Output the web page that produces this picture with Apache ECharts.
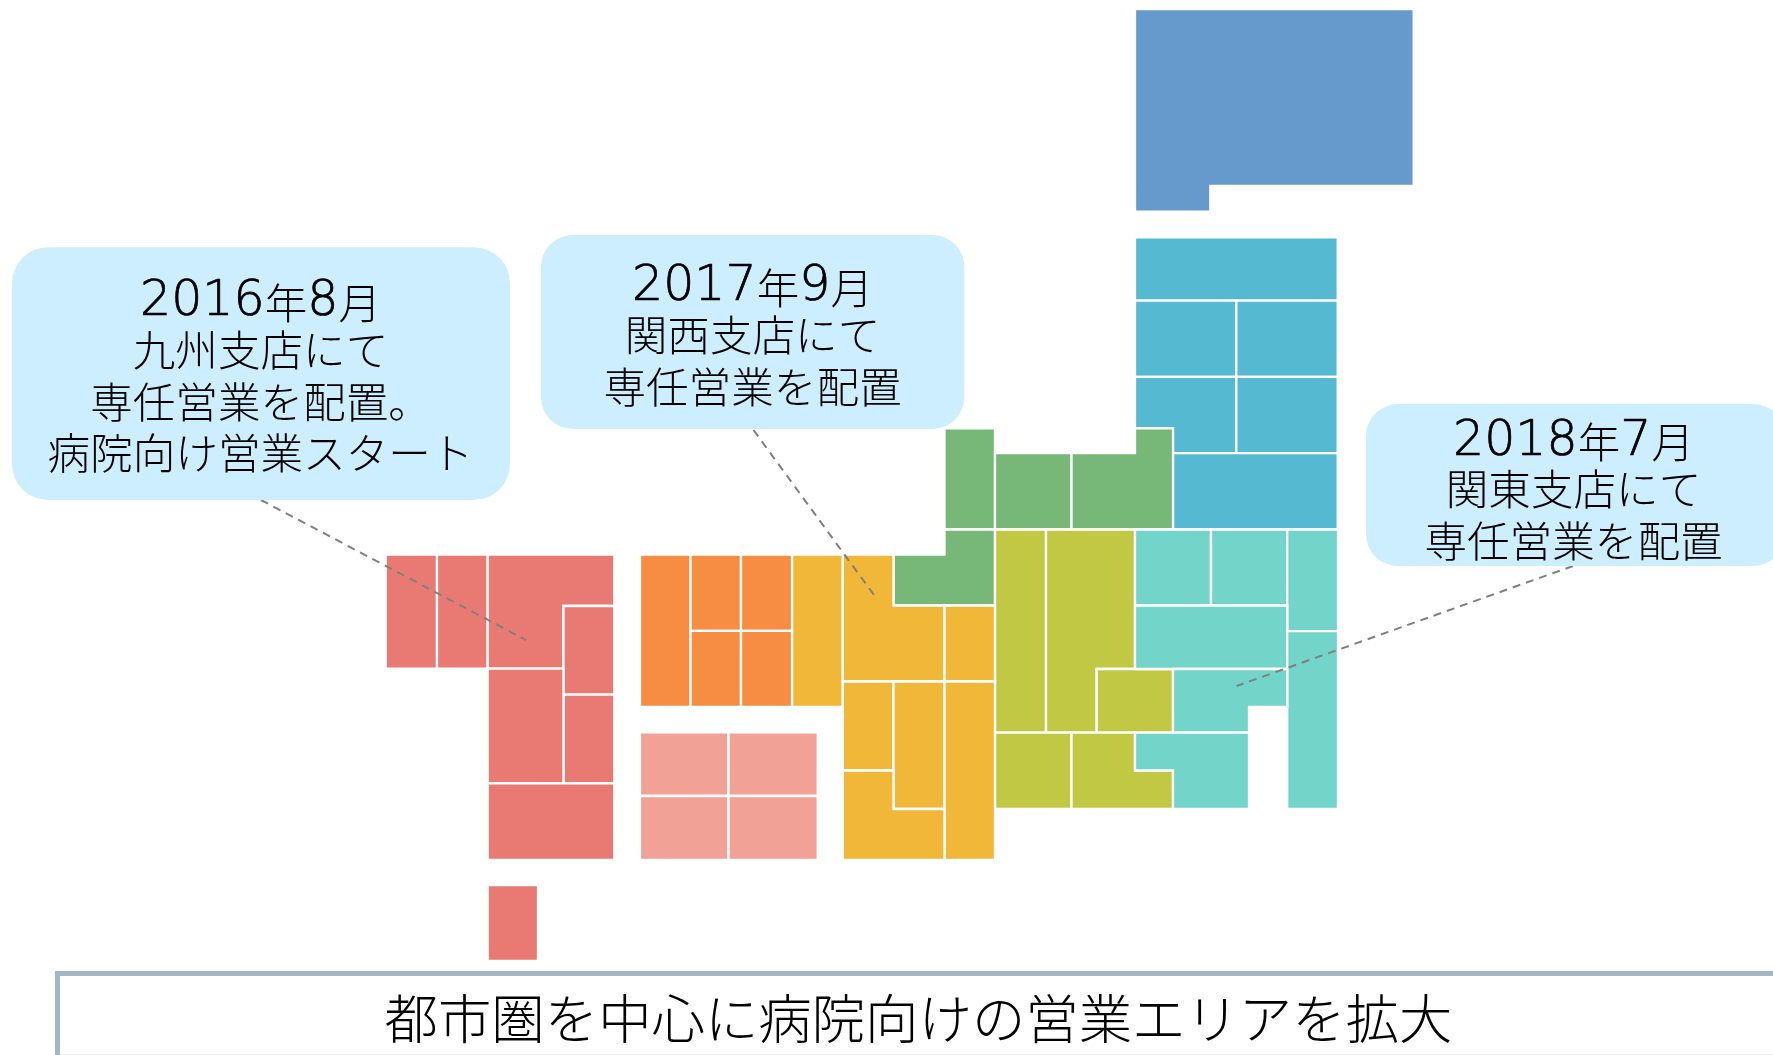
<!DOCTYPE html>
<html>
<head>
<meta charset="utf-8">
<style>
  html, body { margin: 0; padding: 0; background: #fff; }
  #chart { width: 1773px; height: 1055px; }
</style>
</head>
<body>
<div id="chart"></div>
<script src="https://cdn.jsdelivr.net/npm/echarts@6/dist/echarts.min.js"></script>
<script>
// map units. two points = a box, more points = an outline
const hokkaido = [
  [[1135, 9], [1413.7, 9], [1413.7, 186], [1210.3, 186], [1210.3, 211.7], [1135, 211.7]]
]
const tohoku = [
  [[1135, 237.3], [1337.7, 300.7]],
  [[1135, 300.7], [1236.3, 376.8]],
  [[1236.3, 300.7], [1337.7, 376.8]],
  [[1135, 376.8], [1236.3, 376.8], [1236.3, 453.2], [1173, 453.2], [1173, 428.3], [1135, 428.3]],
  [[1236.3, 376.8], [1337.7, 453.2]],
  [[1173, 453.2], [1337.7, 529.5]]
]
const hokuriku = [
  [[944.5, 428.3], [995, 529.5]],
  [[995, 453], [1071.5, 529.5]],
  [[1071.5, 453], [1135, 453], [1135, 428.3], [1173, 428.3], [1173, 529.5], [1071.5, 529.5]],
  [[893.5, 605.5], [893.5, 554.7], [944.5, 554.7], [944.5, 529.5], [995, 529.5], [995, 605.5]]
]
const koshinetsu = [
  [[995, 529.5], [1046, 732.7]],
  [[1046, 529.5], [1135, 529.5], [1135, 669], [1096.7, 669], [1096.7, 732.7], [1046, 732.7]],
  [[1096.7, 669], [1173, 732.7]],
  [[995, 732.7], [1071.5, 809]],
  [[1071.5, 732.7], [1135, 732.7], [1135, 770.5], [1173, 770.5], [1173, 809], [1071.5, 809]]
]
const kanto = [
  [[1135, 529.5], [1211, 605.5]],
  [[1211, 529.5], [1287.2, 605.5]],
  [[1287.2, 529.5], [1338, 631.2]],
  [[1135, 605.5], [1287.2, 669]],
  [[1287.2, 631.2], [1338, 809]],
  [[1173, 669], [1287.2, 669], [1287.2, 707], [1249, 707], [1249, 732.7], [1173, 732.7]],
  [[1135, 732.7], [1249, 732.7], [1249, 809], [1173, 809], [1173, 770.5], [1135, 770.5]]
]
const kansai = [
  [[792, 554.7], [842.8, 707]],
  [[842.8, 554.7], [893.5, 554.7], [893.5, 605.5], [944.5, 605.5], [944.5, 681.5], [842.8, 681.5]],
  [[944.5, 605.5], [995, 681.5]],
  [[842.8, 681.5], [893.5, 770.5]],
  [[893.5, 681.5], [944.5, 809]],
  [[944.5, 681.5], [995, 860]],
  [[842.8, 770.5], [893.5, 770.5], [893.5, 809], [944.5, 809], [944.5, 860], [842.8, 860]]
]
const chugoku = [
  [[640, 554.7], [690.5, 707]],
  [[690.5, 554.7], [741, 630.8]],
  [[741, 554.7], [792, 630.8]],
  [[690.5, 630.8], [741, 707]],
  [[741, 630.8], [792, 707]]
]
const shikoku = [
  [[640, 732.3], [728.5, 796]],
  [[728.5, 732.3], [817.7, 796]],
  [[640, 796], [728.5, 860]],
  [[728.5, 796], [817.7, 860]]
]
const kyushu = [
  [[385.7, 554.7], [437, 668.7]],
  [[437, 554.7], [487.7, 668.7]],
  [[487.7, 554.7], [614.3, 554.7], [614.3, 606], [563.5, 606], [563.5, 668.7], [487.7, 668.7]],
  [[563.5, 606], [614.3, 694.7]],
  [[563.5, 694.7], [614.3, 783.3]],
  [[487.7, 668.7], [563.5, 783.3]],
  [[487.7, 783.3], [614.3, 860]],
  [[487.7, 885], [538, 961]]
]

const regions = [hokkaido, tohoku, hokuriku, koshinetsu, kanto, kansai, chugoku, shikoku, kyushu]
const regionColors = ['#6699cc', '#54b9d1', '#77b878', '#c1c844', '#73d5c9', '#f0b739', '#f68d42', '#f2a196', '#e87a73']

const calloutBoxes = [
  [12, 247.3, 510, 500],
  [541, 235, 964.3, 429],
  [1366, 404, 1785, 566]
]
const calloutRadius = [36, 32, 32]
const calloutAnchors = [[260.5, 376], [752.5, 335], [1573.5, 489.3]]
const calloutTexts = [
  ['2016年8月', '九州支店にて', '専任営業を配置。', '病院向け営業スタート'],
  ['2017年9月', '関西支店にて', '専任営業を配置'],
  ['2018年7月', '関東支店にて', '専任営業を配置']
]
const leaders = [
  [[261, 500], [526, 640]],
  [[753.5, 430], [874, 595]],
  [[1573, 566], [1236.5, 686]]
]

const footerBox = [57.5, 973.5, 1800, 1057.2]
const footerAnchor = [918.5, 1019]
const footerText = '都市圏を中心に病院向けの営業エリアを拡大'

const jpFont = '"Noto Sans CJK JP", sans-serif'
const lineGap = 51.5
const dateLineShift = 4

function toPoints(tile) {
  if (tile.length > 2) return tile
  const a = tile[0]
  const b = tile[1]
  return [a, [b[0], a[1]], b, [a[0], b[1]]]
}

function tileSeries(tiles, color) {
  return {
    type: 'custom',
    silent: true,
    z: 2,
    data: tiles.map(function(t, i) { return [i] }),
    renderItem: function(params, api) {
      const pts = toPoints(tiles[params.dataIndex]).map(function(p) { return api.coord(p) })
      return {
        type: 'polygon',
        shape: { points: pts },
        style: { fill: color, stroke: '#fff', lineWidth: 2.3 }
      }
    }
  }
}

// digits are set wider than the kanji font gives them
function markup(line) {
  return line.split(/(\d+)/).filter(Boolean).map(function(s) {
    return (/\d/.test(s) ? '{d|' : '{t|') + s + '}'
  }).join('')
}

const calloutSeries = {
  type: 'custom',
  silent: true,
  z: 4,
  data: calloutBoxes.map(function(b, i) { return [i] }),
  renderItem: function(params, api) {
    const i = params.dataIndex
    const a = api.coord([calloutBoxes[i][0], calloutBoxes[i][1]])
    const b = api.coord([calloutBoxes[i][2], calloutBoxes[i][3]])
    const c = api.coord(calloutAnchors[i])
    const lines = calloutTexts[i]
    const children = [{
      type: 'rect',
      shape: { x: a[0], y: a[1], width: b[0] - a[0], height: b[1] - a[1], r: calloutRadius[i] },
      style: { fill: '#cceeff' }
    }]
    lines.forEach(function(line, j) {
      const shift = /\d/.test(line) ? dateLineShift : 0
      children.push({
        type: 'text',
        x: c[0],
        y: c[1] + (j - (lines.length - 1) / 2) * lineGap + shift,
        style: {
          text: markup(line),
          align: 'center',
          verticalAlign: 'middle',
          rich: {
            t: { fontFamily: jpFont, fontSize: 42.6, fontWeight: 300, fill: '#000' },
            d: {
              fontFamily: '"DejaVu Sans Light", "DejaVu Sans"',
              fontSize: 49,
              fill: '#000',
              stroke: '#000',
              lineWidth: 0.7
            }
          }
        }
      })
    })
    return { type: 'group', children: children }
  }
}

const leaderSeries = leaders.map(function(l) {
  return {
    type: 'line',
    silent: true,
    z: 3,
    data: l,
    symbol: 'none',
    lineStyle: { color: '#808080', width: 2, type: [8, 6] }
  }
})

const footerSeries = {
  type: 'custom',
  silent: true,
  z: 5,
  data: [[0]],
  renderItem: function(params, api) {
    const a = api.coord([footerBox[0], footerBox[1]])
    const b = api.coord([footerBox[2], footerBox[3]])
    const c = api.coord(footerAnchor)
    return {
      type: 'group',
      children: [{
        type: 'rect',
        shape: { x: a[0], y: a[1], width: b[0] - a[0], height: b[1] - a[1] },
        style: { fill: '#fff', stroke: '#a4b5c6', lineWidth: 5 }
      }, {
        type: 'text',
        x: c[0],
        y: c[1],
        style: {
          text: footerText,
          align: 'center',
          verticalAlign: 'middle',
          fontFamily: jpFont,
          fontWeight: 300,
          fontSize: 53.4,
          fill: '#000'
        }
      }]
    }
  }
}

const chart = echarts.init(document.getElementById('chart'))
chart.setOption({
  animation: false,
  backgroundColor: '#fff',
  grid: { left: 0, right: 0, top: 0, bottom: 0 },
  xAxis: { type: 'value', min: 0, max: 1773, show: false },
  yAxis: { type: 'value', min: 0, max: 1055, inverse: true, show: false },
  series: regions.map(function(r, i) { return tileSeries(r, regionColors[i]) })
    .concat(leaderSeries, [calloutSeries, footerSeries])
})
</script>
</body>
</html>
